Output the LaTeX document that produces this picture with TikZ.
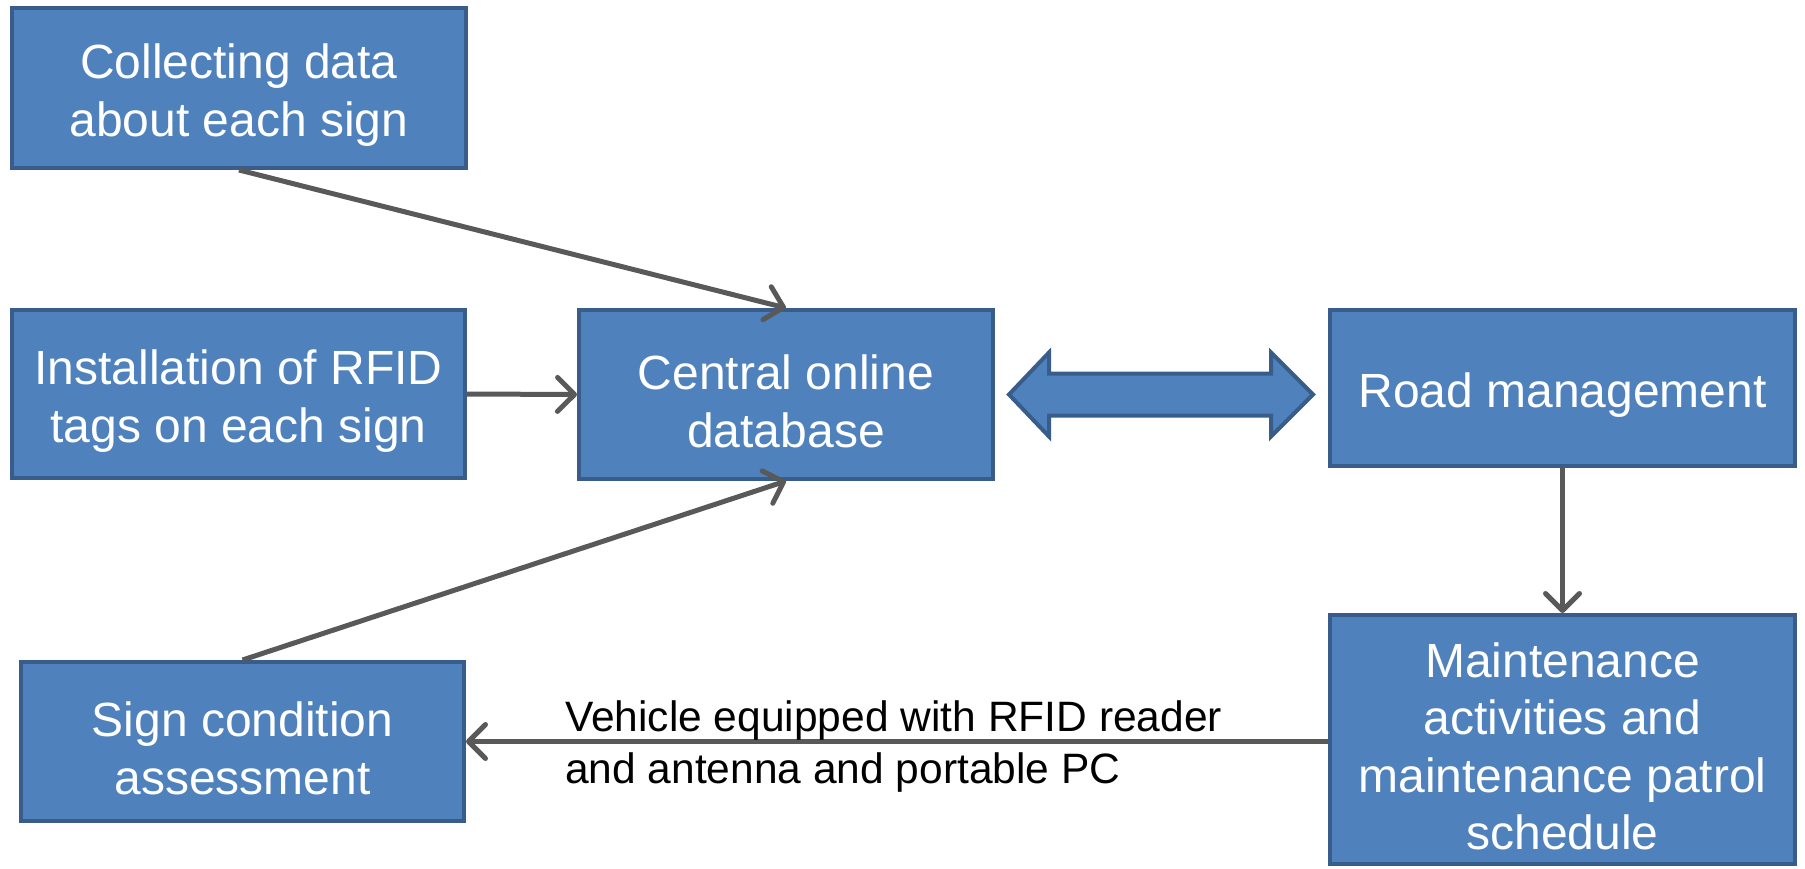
\documentclass[tikz,border=0pt]{standalone}
\usepackage{fontspec}
\setmainfont{Liberation Sans}
\usetikzlibrary{arrows.meta,calc}
\definecolor{boxfill}{HTML}{4F81BD}
\definecolor{boxline}{HTML}{385D8A}
\definecolor{arrgray}{HTML}{595959}
\begin{document}
\begin{tikzpicture}[x=1pt,y=-1pt,
  box/.style={draw=boxline, fill=boxfill, line width=4pt, inner sep=0pt},
  boxtext/.style={text=white, align=center, inner sep=0pt, yshift=-7pt,
    font=\fontsize{48}{57.5}\selectfont},
  conn/.style={draw=arrgray, line width=5pt, -{Straight Barb[length=17pt,width=34pt,round]}},
  lbl/.style={text=black, align=left, inner sep=0pt, font=\fontsize{42.5}{52}\selectfont}]
\useasboundingbox (0,0) rectangle (1805,868);
\node[box, minimum width=454, minimum height=160,
  label={[boxtext]center:{Collecting data\\about each sign}}] (col) at (239,88) {};
\node[box, minimum width=453, minimum height=168,
  label={[boxtext]center:{Installation of RFID\\tags on each sign}}] (ins) at (238.5,394) {};
\node[box, minimum width=414, minimum height=169,
  label={[boxtext]center:{Central online\\database}}] (cen) at (786,394.5) {};
\node[box, minimum width=465, minimum height=156,
  label={[boxtext]center:{Road management}}] (road) at (1562.5,388) {};
\node[box, minimum width=465, minimum height=249,
  label={[boxtext]center:{Maintenance\\activities and\\maintenance patrol\\schedule}}] (mnt) at (1562.5,739.5) {};
\node[box, minimum width=443, minimum height=159,
  label={[boxtext]center:{Sign condition\\assessment}}] (sgn) at (242.5,741.5) {};
% double arrow between central database and road management
\coordinate (dl) at ($(cen.east)+(14,0)$);
\coordinate (dr) at ($(road.west |- cen.east)+(-15,0)$);
\filldraw[fill=boxfill, draw=boxline, line width=4pt, line join=miter]
  (dl) -- ($(dl)+(40,-42)$) -- ($(dl)+(40,-21)$) -- ($(dr)+(-42,-21)$) -- ($(dr)+(-42,-42)$) -- (dr)
  -- ($(dr)+(-42,42)$) -- ($(dr)+(-42,21)$) -- ($(dl)+(40,21)$) -- ($(dl)+(40,42)$) -- cycle;
\draw[conn] (col.south) -- (cen.north);
\draw[conn] (ins.east) -- (cen.west);
\draw[conn] (sgn.north) -- (cen.south);
\draw[conn] (road.south) -- (mnt.north);
\coordinate (ms) at (mnt.west |- sgn.east);
\draw[conn] (ms) -- (sgn.east);
\node[lbl, anchor=west] (veh) at (565,747) {Vehicle equipped with RFID reader\\and antenna and portable PC};
\end{tikzpicture}
\end{document}
